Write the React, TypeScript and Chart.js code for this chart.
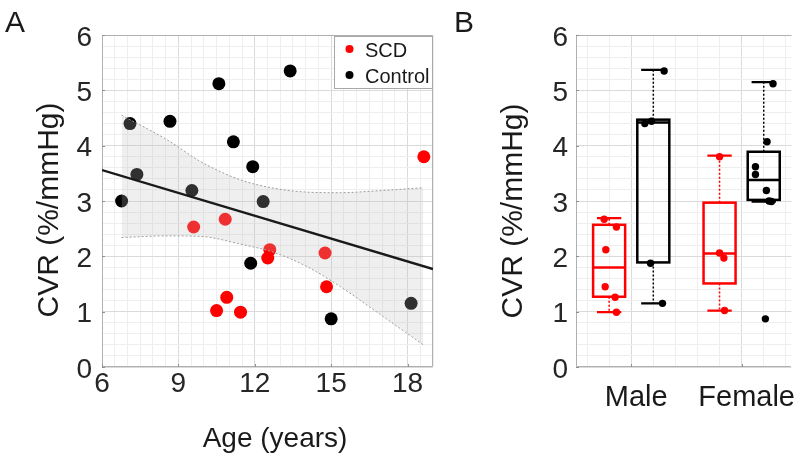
import React, { useEffect, useRef } from 'react';
import { Chart, registerables } from 'chart.js';

Chart.register(...registerables);

// ---------------- Data: panel A (CVR vs age) ----------------
const scdAge = [9.6, 10.84, 12.59, 12.51, 14.76, 14.82, 10.9, 10.5, 11.44, 18.64];
const scdCvr = [2.53, 2.67, 2.12, 1.97, 2.06, 1.45, 1.26, 1.02, 0.99, 3.8];
const controlAge = [6.77, 7.1, 7.37, 8.67, 10.59, 11.16, 11.92, 9.53, 12.33, 13.39, 11.84, 15.0, 18.14];
const controlCvr = [3.0, 4.4, 3.48, 4.44, 5.12, 4.07, 3.62, 3.19, 2.99, 5.35, 1.875, 0.87, 1.15];
const fitAge = [6, 19];
const fitCvr = [3.56, 1.77];
const bandAge = [6.77, 8.58, 9.88, 11.45, 12.76, 14.07, 15.37, 16.68, 18.62];
const bandUpper = [4.55, 4.1, 3.71, 3.38, 3.23, 3.16, 3.15, 3.18, 3.24];
const bandLower = [2.34, 2.37, 2.36, 2.22, 2.07, 1.81, 1.45, 1.03, 0.4];
const ageTickLabels = [6, 9, 12, 15, 18];
const cvrTickLabels = [0, 1, 2, 3, 4, 5, 6];
const legendLabels = ['SCD', 'Control'];
const yTitle = 'CVR (%/mmHg)';
const xTitleA = 'Age (years)';
const panelLabels = ['A', 'B'];

// ---------------- Data: panel B (box plots by sex) ----------------
const sexCategories = ['Male', 'Female'];
const maleScd = [2.67, 2.53, 2.12, 1.45, 1.26, 0.99];
const maleControl = [5.35, 4.44, 4.4, 1.875, 1.15];
const femaleScd = [3.8, 2.06, 1.97, 1.02];
const femaleControl = [5.12, 4.07, 3.62, 3.48, 3.19, 3.0, 2.99, 0.87];
// horizontal jitter of the dots (category units)
const maleScdJitter = [-0.045, 0.066, -0.03, -0.036, 0.054, 0.066];
const maleControlJitter = [0.098, -0.016, -0.077, -0.025, 0.083];
const femaleScdJitter = [0, 0, 0.039, 0.045];
const femaleControlJitter = [0.084, 0.03, -0.075, -0.075, 0.024, 0.048, 0.07, 0.015];
// box statistics: Male SCD, Male Control, Female SCD, Female Control
const boxQ1 = [1.27, 1.89, 1.51, 3.02];
const boxMedian = [1.8, 4.42, 2.05, 3.38];
const boxQ3 = [2.57, 4.47, 2.97, 3.89];
const boxLow = [0.99, 1.15, 1.02, 2.99];
const boxHigh = [2.69, 5.37, 3.82, 5.15];

// ---------------- Styles ----------------
const FONT = "'Liberation Sans', Arial, sans-serif";
const RED = '#ff0000';
const BLACK = '#000000';
const TEXT = '#262626';
const AXIS = '#b0b0b0';
const GRID_MAJOR = '#dadada';
const GRID_MINOR = '#eeeeee';
const BAND_FILL = 'rgba(190,190,190,0.25)';
const GROUP_OFFSET = 0.2;
const BOX_HALF = 0.145;
const CAP_HALF = 0.11;

const near = (a: number, b: number) => Math.abs(a - b) < 1e-6;
function stepValues(min: number, max: number, step: number) {
  const out: number[] = [];
  const n = Math.round((max - min) / step);
  for (let i = 0; i <= n; i++) out.push(Math.round((min + i * step) * 1000) / 1000);
  return out;
}
const zip = (xs: number[], ys: number[], jit?: number[], base = 0) =>
  ys.map((y, i) => ({ x: (jit ? base + jit[i] : xs[i]), y }));

const frameAndTicks = (majorX: number[], majorY: number[], drawRight: boolean) => ({
  id: 'frameTicks',
  beforeDatasetsDraw(chart: any) {
    const { ctx, chartArea } = chart;
    const { left, right, top, bottom } = chartArea;
    const xs = chart.scales.x;
    const ys = chart.scales.y;
    ctx.save();
    ctx.strokeStyle = AXIS;
    ctx.lineWidth = 1;
    ctx.beginPath();
    ctx.moveTo(left + 0.5, top + 0.5);
    ctx.lineTo(left + 0.5, bottom - 0.5);
    ctx.lineTo(right - 0.5, bottom - 0.5);
    if (drawRight) ctx.lineTo(right - 0.5, top + 0.5);
    else ctx.moveTo(right, top + 0.5);
    ctx.lineTo(left + 0.5, top + 0.5);
    ctx.stroke();
    ctx.strokeStyle = '#909090';
    ctx.beginPath();
    majorX.forEach((v) => {
      const p = Math.round(xs.getPixelForValue(v)) + 0.5;
      ctx.moveTo(p, bottom);
      ctx.lineTo(p, bottom - 3);
    });
    majorY.forEach((v) => {
      const p = Math.round(ys.getPixelForValue(v)) + 0.5;
      ctx.moveTo(left, p);
      ctx.lineTo(left + 3, p);
    });
    ctx.stroke();
    ctx.restore();
  },
});

function yScale(width: number, padding: number) {
  return {
    type: 'linear',
    min: 0,
    max: 6,
    afterBuildTicks: (s: any) => {
      s.ticks = stepValues(0, 6, 0.2).map((v) => ({ value: v }));
    },
    afterFit: (s: any) => {
      s.width = width;
    },
    ticks: {
      autoSkip: false,
      padding,
      labelOffset: 3,
      color: TEXT,
      font: { family: FONT, size: 28 },
      callback: (v: number) => {
        const t = cvrTickLabels.find((c) => near(c, v));
        return t === undefined ? '' : String(t);
      },
    },
    grid: {
      drawTicks: false,
      color: (c: any) => (cvrTickLabels.some((t) => near(t, c.tick.value)) ? GRID_MAJOR : GRID_MINOR),
      lineWidth: 1,
    },
    border: { display: false },
  };
}

export default function App() {
  const refA = useRef<HTMLCanvasElement>(null);
  const refB = useRef<HTMLCanvasElement>(null);

  useEffect(() => {
    // ---------- Panel A ----------
    const decorA = {
      id: 'decorA',
      afterDraw(chart: any) {
        const { ctx } = chart;
        ctx.save();
        ctx.fillStyle = '#1a1a1a';
        ctx.font = `30px ${FONT}`;
        ctx.textAlign = 'center';
        ctx.textBaseline = 'middle';
        ctx.save();
        ctx.translate(50, 210);
        ctx.rotate(-Math.PI / 2);
        ctx.fillText(yTitle, 0, 0);
        ctx.restore();
        ctx.font = `28px ${FONT}`;
        ctx.textBaseline = 'alphabetic';
        ctx.fillText(xTitleA, 275, 447);
        ctx.textAlign = 'left';
        ctx.font = `30px ${FONT}`;
        ctx.fillText(panelLabels[0], 5, 32);
        // legend
        ctx.fillStyle = '#ffffff';
        ctx.fillRect(334.5, 36.5, 98, 52);
        ctx.strokeStyle = '#a8a8a8';
        ctx.lineWidth = 1;
        ctx.strokeRect(334.5, 36.5, 98, 52);
        const rows = [50, 76];
        const cols = [RED, BLACK];
        ctx.font = `20px ${FONT}`;
        ctx.textBaseline = 'middle';
        rows.forEach((yy, i) => {
          ctx.fillStyle = cols[i];
          ctx.beginPath();
          ctx.arc(349.5, yy - 1, 4, 0, Math.PI * 2);
          ctx.fill();
          ctx.fillStyle = '#1a1a1a';
          ctx.fillText(legendLabels[i], 365, yy + 1);
        });
        ctx.restore();
      },
    };

    const chartA = new Chart(refA.current as HTMLCanvasElement, {
      type: 'line',
      data: {
        datasets: [
          {
            label: legendLabels[0],
            data: zip(scdAge, scdCvr),
            showLine: false,
            pointRadius: 6.5,
            pointBackgroundColor: RED,
            pointBorderWidth: 0,
            order: 3,
          },
          {
            label: legendLabels[1],
            data: zip(controlAge, controlCvr),
            showLine: false,
            pointRadius: 6.5,
            pointBackgroundColor: BLACK,
            pointBorderWidth: 0,
            order: 3,
          },
          {
            label: 'upper',
            data: zip(bandAge, bandUpper),
            borderColor: '#9c9c9c',
            borderWidth: 1,
            borderDash: [2, 2],
            pointRadius: 0,
            cubicInterpolationMode: 'monotone',
            fill: '+1',
            backgroundColor: BAND_FILL,
            order: 1,
          },
          {
            label: 'lower',
            data: zip(bandAge, bandLower),
            borderColor: '#9c9c9c',
            borderWidth: 1,
            borderDash: [2, 2],
            pointRadius: 0,
            cubicInterpolationMode: 'monotone',
            fill: false,
            order: 1,
          },
          {
            label: 'fit',
            data: zip(fitAge, fitCvr),
            borderColor: '#1a1a1a',
            borderWidth: 2.3,
            pointRadius: 0,
            fill: false,
            order: 0,
          },
        ],
      } as any,
      options: {
        responsive: false,
        animation: false,
        devicePixelRatio: 1,
        layout: { padding: { top: 35, right: 7, left: 0, bottom: 0 } },
        plugins: { legend: { display: false }, tooltip: { enabled: false } },
        scales: {
          x: {
            type: 'linear',
            min: 6,
            max: 19,
            afterBuildTicks: (s: any) => {
              s.ticks = stepValues(6, 19, 0.5).map((v) => ({ value: v }));
            },
            afterFit: (s: any) => {
              s.height = 92;
            },
            ticks: {
              autoSkip: false,
              maxRotation: 0,
              minRotation: 0,
              padding: 0,
              color: TEXT,
              font: { family: FONT, size: 28 },
              callback: (v: number) => {
                const t = ageTickLabels.find((c) => near(c, v));
                return t === undefined ? '' : String(t);
              },
            },
            grid: {
              drawTicks: false,
              color: (c: any) => (ageTickLabels.some((t) => near(t, c.tick.value)) ? GRID_MAJOR : GRID_MINOR),
            },
            border: { display: false },
          },
          y: yScale(102, 10),
        },
      } as any,
      plugins: [frameAndTicks(ageTickLabels, cvrTickLabels, true), decorA],
    });

    // ---------- Panel B ----------
    const groups = [
      { cat: 1, off: -GROUP_OFFSET, color: RED },
      { cat: 1, off: GROUP_OFFSET, color: BLACK },
      { cat: 2, off: -GROUP_OFFSET, color: RED },
      { cat: 2, off: GROUP_OFFSET, color: BLACK },
    ];
    const boxPlugin = {
      id: 'boxes',
      beforeDatasetsDraw(chart: any) {
        const { ctx } = chart;
        const xs = chart.scales.x;
        const ys = chart.scales.y;
        groups.forEach((g, i) => {
          const cx = g.cat + g.off;
          const xc = xs.getPixelForValue(cx);
          const xl = xs.getPixelForValue(cx - BOX_HALF);
          const xr = xs.getPixelForValue(cx + BOX_HALF);
          const cl = xs.getPixelForValue(cx - CAP_HALF);
          const cr = xs.getPixelForValue(cx + CAP_HALF);
          const yq1 = ys.getPixelForValue(boxQ1[i]);
          const yq3 = ys.getPixelForValue(boxQ3[i]);
          const ymed = ys.getPixelForValue(boxMedian[i]);
          const ylo = ys.getPixelForValue(boxLow[i]);
          const yhi = ys.getPixelForValue(boxHigh[i]);
          ctx.save();
          ctx.strokeStyle = g.color;
          ctx.lineWidth = 1.5;
          ctx.setLineDash([2, 2]);
          ctx.beginPath();
          ctx.moveTo(xc, yq3);
          ctx.lineTo(xc, yhi);
          ctx.moveTo(xc, yq1);
          ctx.lineTo(xc, ylo);
          ctx.stroke();
          ctx.setLineDash([]);
          ctx.lineWidth = 2.2;
          ctx.beginPath();
          ctx.moveTo(cl, yhi);
          ctx.lineTo(cr, yhi);
          ctx.moveTo(cl, ylo);
          ctx.lineTo(cr, ylo);
          ctx.stroke();
          ctx.lineWidth = 2.5;
          ctx.strokeRect(xl, yq3, xr - xl, yq1 - yq3);
          ctx.beginPath();
          ctx.moveTo(xl, ymed);
          ctx.lineTo(xr, ymed);
          ctx.stroke();
          ctx.restore();
        });
      },
    };
    const decorB = {
      id: 'decorB',
      afterDraw(chart: any) {
        const { ctx } = chart;
        ctx.save();
        ctx.fillStyle = '#1a1a1a';
        ctx.font = `30px ${FONT}`;
        ctx.textAlign = 'center';
        ctx.textBaseline = 'middle';
        ctx.save();
        ctx.translate(74, 211);
        ctx.rotate(-Math.PI / 2);
        ctx.fillText(yTitle, 0, 0);
        ctx.restore();
        ctx.textAlign = 'left';
        ctx.textBaseline = 'alphabetic';
        ctx.fillText(panelLabels[1], 14, 32);
        ctx.restore();
      },
    };
    const pointSet = (vals: number[], jit: number[], cat: number, off: number, color: string) => ({
      data: zip([], vals, jit, cat + off),
      showLine: false,
      pointRadius: 3.7,
      pointBackgroundColor: color,
      pointBorderWidth: 0,
    });

    const chartB = new Chart(refB.current as HTMLCanvasElement, {
      type: 'line',
      data: {
        datasets: [
          pointSet(maleScd, maleScdJitter, 1, -GROUP_OFFSET, RED),
          pointSet(maleControl, maleControlJitter, 1, GROUP_OFFSET, BLACK),
          pointSet(femaleScd, femaleScdJitter, 2, -GROUP_OFFSET, RED),
          pointSet(femaleControl, femaleControlJitter, 2, GROUP_OFFSET, BLACK),
        ],
      } as any,
      options: {
        responsive: false,
        animation: false,
        devicePixelRatio: 1,
        layout: { padding: { top: 35, right: 7, left: 0, bottom: 0 } },
        plugins: { legend: { display: false }, tooltip: { enabled: false } },
        scales: {
          x: {
            type: 'linear',
            min: 0.5,
            max: 2.45,
            afterBuildTicks: (s: any) => {
              s.ticks = stepValues(0.6, 2.4, 0.2).map((v) => ({ value: v }));
            },
            afterFit: (s: any) => {
              s.height = 92;
            },
            ticks: {
              autoSkip: false,
              maxRotation: 0,
              minRotation: 0,
              padding: 14,
              labelOffset: 5,
              color: '#1a1a1a',
              font: { family: FONT, size: 29 },
              callback: (v: number) => {
                const i = sexCategories.findIndex((_, k) => near(k + 1, v));
                return i < 0 ? '' : sexCategories[i];
              },
            },
            grid: {
              drawTicks: false,
              color: (c: any) => (near(c.tick.value, 1) || near(c.tick.value, 2) ? GRID_MAJOR : GRID_MINOR),
            },
            border: { display: false },
          },
          y: yScale(136, 8),
        },
      } as any,
      plugins: [frameAndTicks([1, 2], cvrTickLabels, false), boxPlugin, decorB],
    });

    return () => {
      chartA.destroy();
      chartB.destroy();
    };
  }, []);

  return (
    <div style={{ position: 'absolute', left: 0, top: 0, width: 800, height: 459, background: '#ffffff', overflow: 'hidden' }}>
      <canvas ref={refA} width={440} height={459} style={{ position: 'absolute', left: 0, top: 0 }} />
      <canvas ref={refB} width={360} height={459} style={{ position: 'absolute', left: 440, top: 0 }} />
    </div>
  );
}
